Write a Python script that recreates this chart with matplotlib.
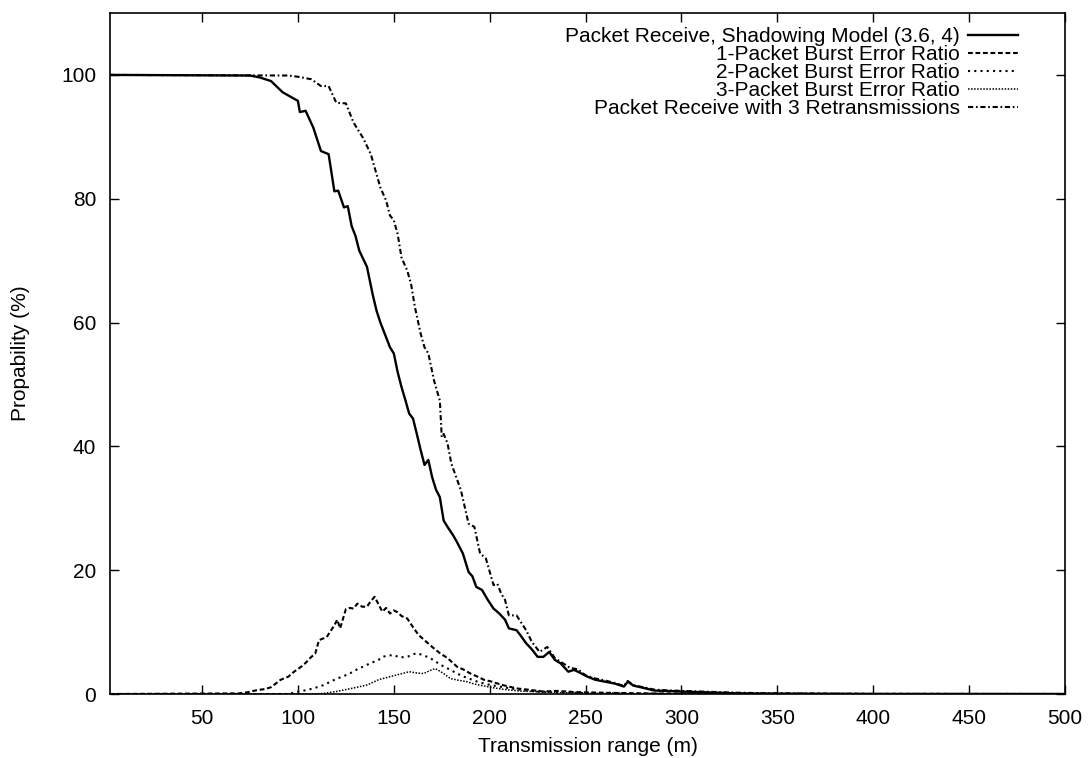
import matplotlib
matplotlib.use("Agg")
import matplotlib.pyplot as plt

plt.rcParams['font.family'] = ['Liberation Sans', 'DejaVu Sans']

# Packet Receive, Shadowing Model (3.6, 4)
recv_x = [2, 75, 80, 86, 92, 96, 100, 101, 104, 108, 112, 116, 119, 121, 124, 126,
          128, 130, 132, 134, 136, 139, 141, 143, 146, 148, 150, 152, 154, 156, 158,
          160, 162, 164, 166, 168, 170, 172, 174, 176, 178, 181, 183, 186, 189, 191,
          193, 196, 199, 202, 205, 208, 210, 214, 216, 219, 222, 225, 228, 231, 234,
          237, 241, 244, 246, 251, 255, 260, 265, 270, 272, 275, 280, 286, 292, 299,
          305, 310, 320, 330, 350, 400, 500]
recv_y = [100, 99.9, 99.6, 99.0, 97.2, 96.5, 95.8, 94.0, 94.2, 91.5, 87.7, 87.2, 81.2,
          81.3, 78.6, 78.8, 75.6, 74.0, 71.6, 70.3, 69.0, 64.5, 61.9, 60.0, 57.6, 56.0,
          55.0, 52.0, 49.6, 47.5, 45.3, 44.5, 42.0, 39.4, 37.0, 37.8, 35.0, 33.0, 31.8,
          28.0, 27.0, 25.6, 24.5, 22.7, 19.7, 19.0, 17.3, 16.8, 15.2, 13.8, 13.0, 12.0,
          10.6, 10.3, 9.5, 8.2, 7.2, 6.0, 6.0, 6.8, 5.5, 4.95, 3.6, 3.9, 3.6, 2.8, 2.3,
          2.0, 1.7, 1.2, 2.0, 1.35, 1.0, 0.55, 0.5, 0.4, 0.35, 0.3, 0.2, 0.1, 0.05, 0.0,
          0.0]

# 1-Packet Burst Error Ratio
burst1_x = [2, 69, 74, 79, 83, 86, 91, 95, 98, 103, 107, 109, 111, 115, 119, 120.5,
            122, 125, 127, 129, 131, 133.5, 136, 138, 140, 142, 144, 146, 148, 150, 152,
            154, 157, 160, 163, 166, 170, 174, 178, 183, 186, 190, 193, 197, 201, 206,
            210, 214, 220, 228, 235, 245, 260, 280, 300, 500]
burst1_y = [0, 0.1, 0.3, 0.65, 0.8, 1.1, 2.3, 2.8, 3.6, 4.7, 6.0, 6.5, 8.7, 9.2, 11.1,
            12.0, 10.6, 13.7, 13.9, 13.8, 14.6, 14.1, 14.1, 15.0, 15.7, 14.5, 13.3, 13.9,
            13.0, 13.5, 13.2, 12.6, 12.2, 10.8, 9.5, 8.7, 7.6, 6.6, 5.8, 4.4, 4.0, 3.3,
            2.9, 2.3, 2.0, 1.5, 1.2, 0.9, 0.7, 0.4, 0.5, 0.3, 0.2, 0.1, 0.05, 0]

# 2-Packet Burst Error Ratio
burst2_x = [2, 95, 100.5, 104, 108, 113.5, 117, 120.5, 124, 127.5, 131, 134.5, 138, 142,
            144, 147, 150, 153, 157, 160, 162, 165, 169, 172, 174.5, 177, 179.5, 183,
            186.5, 190, 193.5, 197, 200.5, 205, 211, 218, 225, 235, 250, 280, 500]
burst2_y = [0, 0, 0.4, 0.6, 0.9, 1.45, 2.0, 2.5, 2.9, 3.4, 4.0, 4.5, 5.0, 5.5, 6.0, 6.2,
            6.3, 5.9, 6.0, 6.4, 6.6, 6.3, 5.8, 5.2, 4.7, 4.3, 3.9, 3.3, 2.8, 2.4, 2.0,
            1.7, 1.45, 1.2, 0.9, 0.6, 0.4, 0.3, 0.15, 0.05, 0]

# 3-Packet Burst Error Ratio
burst3_x = [2, 108, 113.5, 120, 125.5, 131, 136, 142, 148, 153, 158, 162, 165.5, 169,
            171.5, 174, 176, 179.5, 184, 188, 192, 197, 202, 207, 215, 228, 245, 270, 500]
burst3_y = [0, 0, 0.1, 0.4, 0.75, 1.1, 1.45, 2.3, 2.8, 3.2, 3.6, 3.4, 3.3, 3.8, 4.1, 3.7,
            3.3, 2.5, 2.2, 2.0, 1.6, 1.3, 1.0, 0.75, 0.5, 0.3, 0.15, 0.05, 0]

# Packet Receive with 3 Retransmissions
retx_x = [2, 95, 100, 107, 112, 116, 120, 125, 129, 134, 138, 143, 146, 148, 150, 152,
          154, 157, 159, 161, 164, 166, 168, 171, 174, 175, 176, 178, 180, 182, 185, 189,
          192, 195, 198, 202, 204, 206, 208, 210, 214, 219, 222, 226, 230, 234, 238, 242,
          246, 250, 255, 260, 265, 270, 272, 275, 280, 286, 292, 300, 310, 320, 330, 350,
          400, 500]
retx_y = [100, 99.9, 99.7, 99.3, 98.2, 98.2, 95.5, 95.4, 92.3, 89.8, 87.2, 81.8, 79.7,
          77.3, 76.5, 74.3, 70.5, 68.4, 66.2, 62.5, 58.2, 56.0, 55.0, 50.6, 47.4, 41.5,
          42.0, 40.5, 37.2, 35.5, 32.9, 27.5, 27.0, 22.7, 21.9, 17.6, 17.8, 16.2, 15.2,
          12.7, 12.7, 10.3, 8.4, 6.8, 7.6, 5.8, 5.0, 4.2, 4.0, 3.0, 2.5, 2.2, 1.8, 1.3,
          2.1, 1.4, 1.1, 0.7, 0.6, 0.5, 0.4, 0.3, 0.2, 0.1, 0.0, 0.0]

labels = ['Packet Receive, Shadowing Model (3.6, 4)',
          '1-Packet Burst Error Ratio',
          '2-Packet Burst Error Ratio',
          '3-Packet Burst Error Ratio',
          'Packet Receive with 3 Retransmissions']

fs = 15

fig = plt.figure(figsize=(10.88, 7.58), dpi=100)
ax = fig.add_axes([110 / 1088, 64 / 758, 955 / 1088, 681 / 758])

ax.plot(recv_x, recv_y, color='black', lw=1.7, ls='-', label=labels[0])
ax.plot(burst1_x, burst1_y, color='black', lw=1.5, dashes=(2.3, 1.3), label=labels[1])
ax.plot(burst2_x, burst2_y, color='black', lw=1.5, dashes=(1.0, 2.0), label=labels[2])
ax.plot(burst3_x, burst3_y, color='black', lw=1.1, dashes=(1.0, 1.0), label=labels[3])
ax.plot(retx_x, retx_y, color='black', lw=1.5, dashes=(2.5, 1.3, 0.8, 1.3), label=labels[4])

ax.set_xlim(2, 500)
ax.set_ylim(0, 110)
ax.set_xticks([50, 100, 150, 200, 250, 300, 350, 400, 450, 500])
ax.set_yticks([0, 20, 40, 60, 80, 100])
ax.tick_params(direction='in', top=True, right=True, length=6.5, width=1.0,
               labelsize=fs, color='black')
ax.tick_params(axis='x', pad=11)
ax.tick_params(axis='y', pad=10)
for s in ax.spines.values():
    s.set_linewidth(1.2)

ax.set_xlabel('Transmission range (m)', fontsize=fs, labelpad=6)
ax.set_ylabel('Propability (%)', fontsize=fs, labelpad=22)

ax.legend(loc='upper right', bbox_to_anchor=(0.951, 0.979), frameon=False,
          markerfirst=False, fontsize=fs, handlelength=2.4, handletextpad=0.4,
          labelspacing=-0.05, borderaxespad=0, borderpad=0)

fig.savefig('out.png', dpi=100)
